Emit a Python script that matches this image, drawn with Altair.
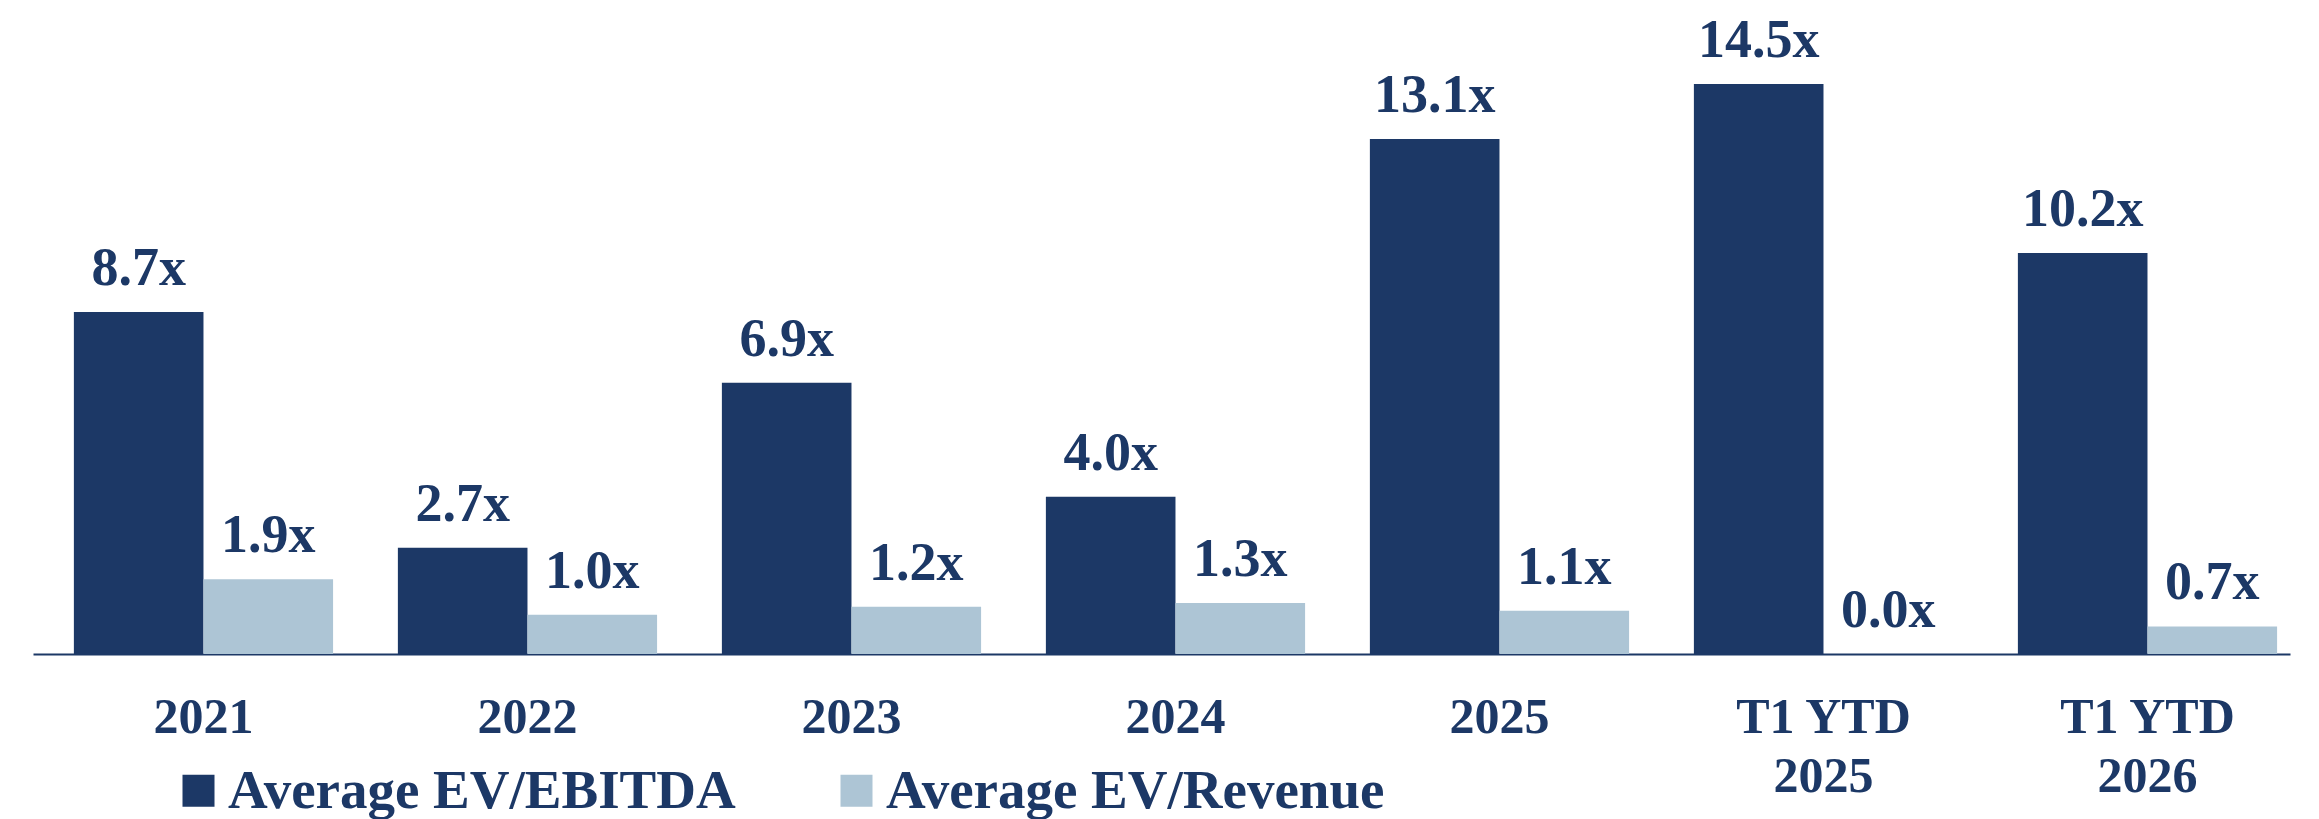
import altair as alt
import pandas as pd

categories = ["2021", "2022", "2023", "2024", "2025", "T1 YTD 2025", "T1 YTD 2026"]
ev_ebitda = [8.7, 2.7, 6.9, 4.0, 13.1, 14.5, 10.2]
ev_revenue = [1.9, 1.0, 1.2, 1.3, 1.1, 0.0, 0.7]
series = ["Average EV/EBITDA", "Average EV/Revenue"]
colors = ["#1c3866", "#adc5d5"]

rows = []
for c, a, b in zip(categories, ev_ebitda, ev_revenue):
    rows.append({"cat": c, "series": series[0], "value": a})
    rows.append({"cat": c, "series": series[1], "value": b})
df = pd.DataFrame(rows)

FONT = "Liberation Serif"
NAVY = "#1c3866"

x = alt.X("cat:N", sort=categories, title=None,
          scale=alt.Scale(paddingInner=0.2, paddingOuter=0.083, align=0.76),
          axis=alt.Axis(labelAngle=0, ticks=False, domainColor=NAVY, domainWidth=2,
                        labelFont=FONT, labelFontSize=50, labelFontWeight="bold",
                        labelColor=NAVY, labelPadding=38, labelLineHeight=59,
                        labelLimit=0,
                        labelExpr="length(datum.label) > 4 ? [slice(datum.label, 0, 6), slice(datum.label, 7)] : datum.label"))
y = alt.Y("value:Q", scale=alt.Scale(domain=[0, 16], nice=False), axis=None)
xo = alt.XOffset("series:N", sort=series)

bars = alt.Chart(df).mark_bar().encode(
    x=x, y=y, xOffset=xo,
    color=alt.Color("series:N", sort=series,
                    scale=alt.Scale(domain=series, range=colors),
                    legend=alt.Legend(title=None, orient="none", legendX=138, legendY=738,
                                      direction="horizontal", symbolType="square",
                                      symbolSize=1024, symbolStrokeWidth=0,
                                      labelFont=FONT, labelFontSize=55, labelFontWeight="bold",
                                      labelColor=NAVY, labelOffset=2, labelLimit=0,
                                      columnPadding=93)),
)

labels = alt.Chart(df).transform_calculate(
    lbl="format(datum.value, '.1f') + 'x'"
).mark_text(font=FONT, fontSize=54, fontWeight="bold", color=NAVY,
            baseline="alphabetic", dy=-27).encode(
    x=x, y=y, xOffset=xo, text="lbl:N"
)

chart = (bars + labels).properties(
    width=2257, height=629,
    background="white",
    autosize=alt.AutoSizeParams(type="none"),
    padding={"left": 33, "top": 25, "right": 29, "bottom": 165},
).configure_view(stroke=None, strokeWidth=0)

chart.save("out.html", embed_options={"renderer": "svg", "actions": False})
